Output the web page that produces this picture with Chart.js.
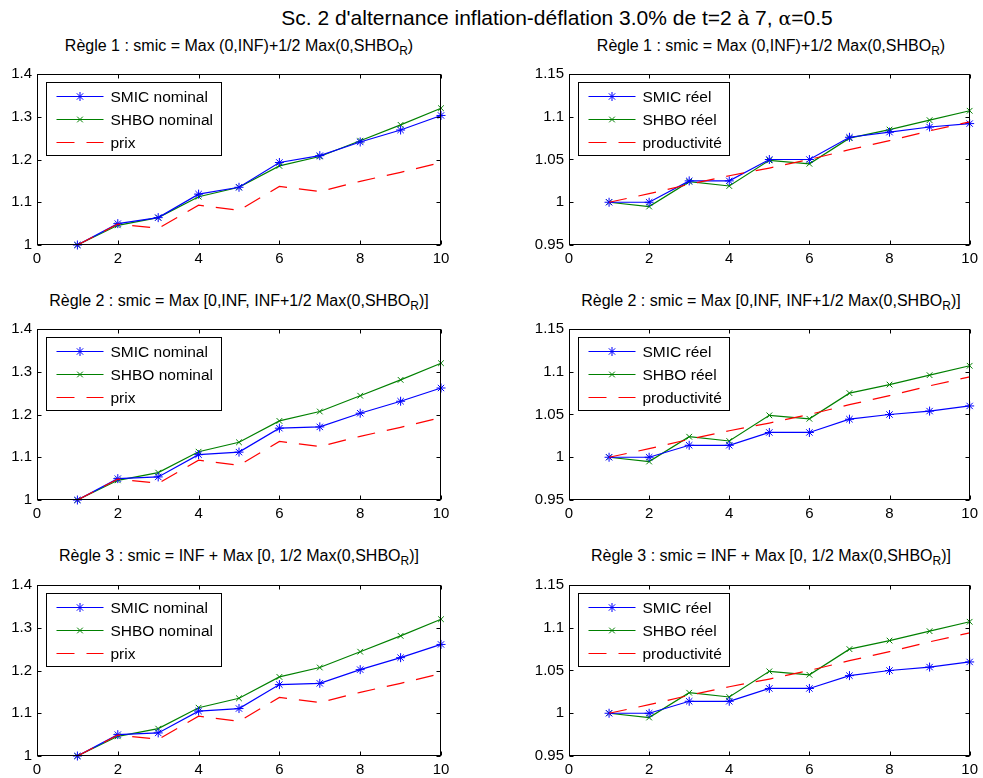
<!DOCTYPE html>
<html lang="fr">
<head>
<meta charset="UTF-8">
<title>Sc. 2 d'alternance inflation-déflation</title>
<script src="https://cdn.jsdelivr.net/npm/chart.js@4.4.1/dist/chart.umd.min.js"></script>
<style>
  body { margin: 0; background: #fff; width: 983px; height: 778px; position: relative; overflow: hidden;
         font-family: "Liberation Sans", Arial, Helvetica, sans-serif; color: #000; }
  .ttl { position: absolute; text-align: center; white-space: nowrap; }
  .sub { font-size: 16px; line-height: 18px; width: 420px; }
  .sub sub { font-size: 0.75em; vertical-align: -0.3em; line-height: 0; }
  canvas { position: absolute; }
</style>
</head>
<body>

<div class="ttl" style="left:257px;top:6px;width:600px;font-size:21px;line-height:24px">Sc. 2 d'alternance inflation-déflation 3.0% de t=2 à 7, <span style="font-family:'DejaVu Serif';font-size:19px">α</span>=0.5</div>

<div class="ttl sub" style="left:29px;top:37px">Règle 1 : smic = Max (0,INF)+1/2 Max(0,SHBO<sub>R</sub>)</div>
<div class="ttl sub" style="left:561px;top:37px">Règle 1 : smic = Max (0,INF)+1/2 Max(0,SHBO<sub>R</sub>)</div>
<div class="ttl sub" style="left:29px;top:292px">Règle 2 : smic = Max [0,INF, INF+1/2 Max(0,SHBO<sub>R</sub>)]</div>
<div class="ttl sub" style="left:561px;top:292px">Règle 2 : smic = Max [0,INF, INF+1/2 Max(0,SHBO<sub>R</sub>)]</div>
<div class="ttl sub" style="left:29px;top:547px">Règle 3 : smic = INF + Max [0, 1/2 Max(0,SHBO<sub>R</sub>)]</div>
<div class="ttl sub" style="left:561px;top:547px">Règle 3 : smic = INF + Max [0, 1/2 Max(0,SHBO<sub>R</sub>)]</div>

<canvas id="c1" width="455" height="211" style="left:0px;top:60px"></canvas>
<canvas id="c2" width="462" height="211" style="left:521px;top:60px"></canvas>
<canvas id="c3" width="455" height="211" style="left:0px;top:315px"></canvas>
<canvas id="c4" width="462" height="211" style="left:521px;top:315px"></canvas>
<canvas id="c5" width="455" height="211" style="left:0px;top:571px"></canvas>
<canvas id="c6" width="462" height="211" style="left:521px;top:571px"></canvas>

<script>
// periods
const periods = [1, 2, 3, 4, 5, 6, 7, 8, 9, 10];
const xTicks = [0, 2, 4, 6, 8, 10];
const yTicksNominal = [1, 1.1, 1.2, 1.3, 1.4];
const yTicksReal = [0.95, 1, 1.05, 1.1, 1.15];

// nominal series
const prix       = [1.000, 1.049, 1.039, 1.093, 1.081, 1.137, 1.125, 1.149, 1.170, 1.193];
const shboNom    = [1.000, 1.046, 1.064, 1.113, 1.135, 1.185, 1.207, 1.244, 1.281, 1.320];
const smicNomR1  = [1.000, 1.050, 1.064, 1.119, 1.135, 1.193, 1.209, 1.241, 1.269, 1.303];
const smicNomR2  = [1.000, 1.050, 1.054, 1.106, 1.112, 1.168, 1.171, 1.203, 1.231, 1.262];
const smicNomR3  = [1.000, 1.050, 1.054, 1.105, 1.111, 1.167, 1.170, 1.202, 1.230, 1.261];

// real series
const productivite = [1.000, 1.010, 1.021, 1.031, 1.040, 1.050, 1.0615, 1.072, 1.0835, 1.094];
const shboReel     = [1.000, 0.995, 1.024, 1.019, 1.049, 1.045, 1.075, 1.085, 1.096, 1.107];
const smicReelR1   = [1.000, 1.000, 1.025, 1.025, 1.050, 1.050, 1.076, 1.082, 1.088, 1.092];
const smicReelR2   = [1.000, 1.000, 1.014, 1.014, 1.029, 1.029, 1.0445, 1.050, 1.054, 1.060];
const smicReelR3   = [1.000, 1.000, 1.014, 1.014, 1.029, 1.029, 1.044, 1.050, 1.054, 1.060];

const FONT = '"Liberation Sans", Arial, Helvetica, sans-serif';
const BLUE = '#0000ff', GREEN = '#008000', RED = '#ff0000';
const DASH = [18, 12];

function pts(arr) { return arr.map((v, i) => ({ x: periods[i], y: v })); }

function drawMarker(ctx, style, r, x, y) {
  ctx.beginPath();
  if (style === 'star') {
    ctx.moveTo(x, y - r); ctx.lineTo(x, y + r);
    ctx.moveTo(x - r, y); ctx.lineTo(x + r, y);
  }
  const d = r * Math.SQRT1_2;
  ctx.moveTo(x - d, y - d); ctx.lineTo(x + d, y + d);
  ctx.moveTo(x - d, y + d); ctx.lineTo(x + d, y - d);
  ctx.stroke();
}

// box, inward ticks and matlab-like legend
const matlabFrame = {
  id: 'matlabFrame',
  afterDraw(chart) {
    const { ctx, chartArea: a, scales: { x, y } } = chart;
    const L = Math.round(a.left) + 0.5, R = Math.round(a.right) - 0.5;
    const T = Math.round(a.top) + 0.5, B = Math.round(a.bottom) - 0.5;
    ctx.save();
    ctx.strokeStyle = '#000';
    ctx.lineWidth = 1;
    ctx.setLineDash([]);
    ctx.strokeRect(L, T, R - L, B - T);
    ctx.beginPath();
    x.ticks.forEach(t => {
      const px = Math.round(x.getPixelForValue(t.value)) + 0.5;
      ctx.moveTo(px, B); ctx.lineTo(px, B - 4);
      ctx.moveTo(px, T); ctx.lineTo(px, T + 4);
    });
    y.ticks.forEach(t => {
      const py = Math.round(y.getPixelForValue(t.value)) + 0.5;
      ctx.moveTo(L, py); ctx.lineTo(L + 4, py);
      ctx.moveTo(R, py); ctx.lineTo(R - 4, py);
    });
    ctx.stroke();

    // legend
    const sets = chart.data.datasets;
    ctx.font = '15.5px ' + FONT;
    const tw = Math.max(...sets.map(d => ctx.measureText(d.label).width));
    const bx = Math.round(a.left) + 9.5, by = Math.round(a.top) + 8.5;
    const w = Math.round(64 + tw + 8), h = 73;
    ctx.fillStyle = '#fff';
    ctx.fillRect(bx, by, w, h);
    ctx.strokeRect(bx, by, w, h);
    sets.forEach((d, i) => {
      const ry = by + 14 + i * 23;
      ctx.strokeStyle = d.borderColor;
      ctx.lineWidth = 1;
      ctx.setLineDash(d.borderDash || []);
      ctx.beginPath();
      ctx.moveTo(bx + 10, ry); ctx.lineTo(bx + 57, ry);
      ctx.stroke();
      ctx.setLineDash([]);
      if (d.pointRadius > 0) drawMarker(ctx, d.pointStyle, d.pointRadius, bx + 33.5, ry);
      ctx.fillStyle = '#000';
      ctx.textBaseline = 'middle';
      ctx.fillText(d.label, bx + 64, ry + 1);
    });
    ctx.restore();
  }
};

function makeChart(id, yTicks, yWidth, padRight, smic, shbo, ref, labels) {
  const ds = (label, data, color, style, r, order, dash) => ({
    label, data: pts(data), borderColor: color, backgroundColor: color,
    borderWidth: 1.2, borderDash: dash || [], pointStyle: style, pointRadius: r,
    pointBorderColor: color, pointBorderWidth: 1, pointHoverRadius: r,
    tension: 0, clip: false, order
  });
  return new Chart(document.getElementById(id), {
    type: 'line',
    data: {
      datasets: [
        ds(labels[0], smic, BLUE, 'star', 4.5, 1),
        ds(labels[1], shbo, GREEN, 'crossRot', 4, 2),
        ds(labels[2], ref, RED, false, 0, 0, DASH)
      ]
    },
    options: {
      responsive: false,
      animation: false,
      devicePixelRatio: 1,
      events: [],
      layout: { padding: { top: 12, right: padRight, bottom: 0, left: 0 } },
      plugins: { legend: { display: false }, tooltip: { enabled: false } },
      scales: {
        x: {
          type: 'linear', min: 0, max: 10,
          grid: { display: false, drawTicks: false },
          border: { display: false },
          ticks: { color: '#000', font: { family: FONT, size: 15 }, padding: 5, maxRotation: 0 },
          afterBuildTicks: s => { s.ticks = xTicks.map(v => ({ value: v })); },
          afterFit: s => { s.height = 26; }
        },
        y: {
          type: 'linear', min: yTicks[0], max: yTicks[yTicks.length - 1],
          grid: { display: false, drawTicks: false },
          border: { display: false },
          ticks: { color: '#000', font: { family: FONT, size: 15 }, padding: 5,
                   callback: v => String(+v.toFixed(2)) },
          afterBuildTicks: s => { s.ticks = yTicks.map(v => ({ value: v })); },
          afterFit: s => { s.width = yWidth; }
        }
      }
    },
    plugins: [matlabFrame]
  });
}

const nomLabels = ['SMIC nominal', 'SHBO nominal', 'prix'];
const realLabels = ['SMIC réel', 'SHBO réel', 'productivité'];

makeChart('c1', yTicksNominal, 37, 14, smicNomR1, shboNom, prix, nomLabels);
makeChart('c2', yTicksReal, 48, 9, smicReelR1, shboReel, productivite, realLabels);
makeChart('c3', yTicksNominal, 37, 14, smicNomR2, shboNom, prix, nomLabels);
makeChart('c4', yTicksReal, 48, 9, smicReelR2, shboReel, productivite, realLabels);
makeChart('c5', yTicksNominal, 37, 14, smicNomR3, shboNom, prix, nomLabels);
makeChart('c6', yTicksReal, 48, 9, smicReelR3, shboReel, productivite, realLabels);
</script>
</body>
</html>
